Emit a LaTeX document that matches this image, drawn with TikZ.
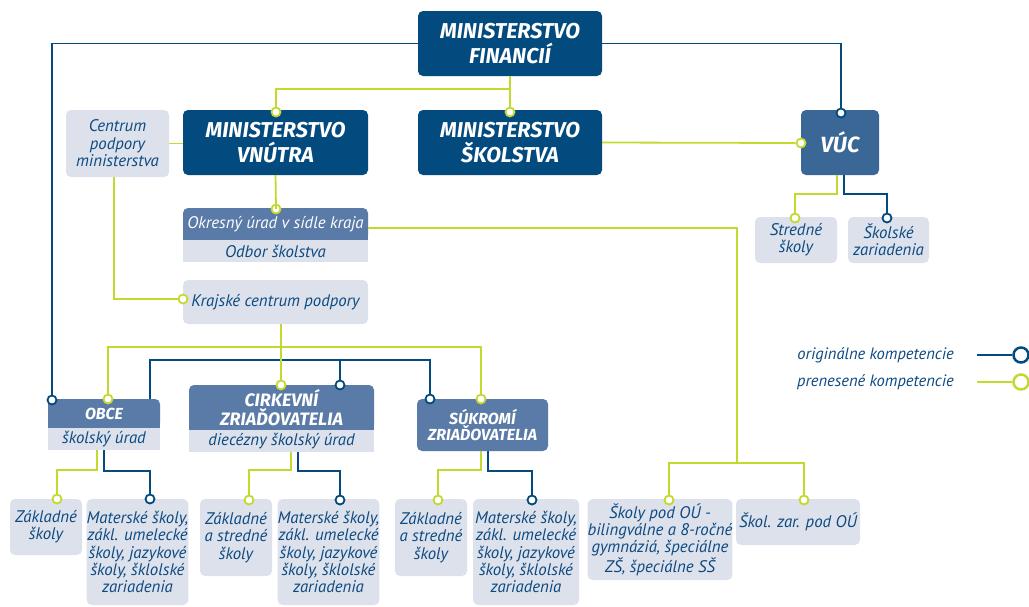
\documentclass[tikz,border=0pt]{standalone}
\usepackage{fontspec}
\setmainfont{PT Sans}
\newfontfamily\headfont{Fira Sans}
\usetikzlibrary{backgrounds}

\definecolor{mfblue}{HTML}{034A7E}
\definecolor{vucblue}{HTML}{3A6795}
\definecolor{hdrblue}{HTML}{5A7BA7}
\definecolor{paleblue}{HTML}{DCE1EC}
\definecolor{lime}{HTML}{C4D92E}
\definecolor{textblue}{HTML}{0D4A80}

\begin{document}
\begin{tikzpicture}[x=1pt, y=-1pt,
  ministry/.style={rectangle, rounded corners=5pt, fill=mfblue, text=white, align=center, inner sep=0pt,
    font=\headfont\fontsize{21.5}{24.5}\selectfont\bfseries\itshape, minimum width=184pt, minimum height=65pt},
  header/.style={rectangle, rounded corners=5pt, fill=hdrblue, text=white, align=center, inner sep=0pt,
    font=\headfont\fontsize{18}{18.5}\selectfont\bfseries\itshape},
  subbox/.style={rectangle, fill=paleblue, text=textblue, align=center, inner sep=0pt, minimum height=22pt,
    font=\fontsize{16.8}{17.5}\selectfont\itshape},
  leaf/.style={rectangle, rounded corners=5pt, fill=paleblue, text=textblue, align=center, inner sep=0pt,
    font=\fontsize{16.8}{17.3}\selectfont\itshape},
  orig/.style={draw=mfblue, line width=1.8pt},
  pren/.style={draw=lime, line width=1.8pt},
  orig_end/.style={circle, draw=mfblue, fill=white, line width=1.8pt, inner sep=0pt, minimum size=9pt},
  pren_end/.style={circle, draw=lime, fill=white, line width=1.8pt, inner sep=0pt, minimum size=9pt},
  legend_text/.style={text=textblue, inner sep=0pt, font=\fontsize{16.5}{17}\selectfont\itshape}
]
  \useasboundingbox (0,0) rectangle (1029,606);

  % Ministries
  \node[ministry] (mf) at (510,43.5) {MINISTERSTVO\\FINANCIÍ};
  \node[ministry, minimum width=185pt] (mv) at (275.5,142.5) {MINISTERSTVO\\VNÚTRA};
  \node[ministry] (ms) at (510,142.5) {MINISTERSTVO\\ŠKOLSTVA};
  \node[ministry, fill=vucblue, minimum width=78pt, font=\headfont\fontsize{22}{24}\selectfont\bfseries\itshape] (vuc) at (840,142.5) {VÚC};
  \node[leaf, minimum width=103pt, minimum height=67pt, font=\fontsize{16.8}{17.5}\selectfont\itshape] (cpm) at (117.5,143.5) {Centrum\\podpory\\ministerstva};

  % Regional office
  \node[header, minimum width=185pt, minimum height=32pt, font=\fontsize{16.8}{17.5}\selectfont\itshape] (ou_h) at (275.5,224) {Okresný úrad v sídle kraja};
  \node[subbox, minimum width=185pt] (ou_s) at (275.5,251) {Odbor školstva};
  \node[leaf, minimum width=185pt, minimum height=44pt] (kcp) at (275.5,302) {Krajské centrum podpory};

  % VUC schools
  \node[leaf, minimum width=82pt, minimum height=46pt] (vuc_ss) at (796,240) {Stredné\\školy};
  \node[leaf, minimum width=81pt, minimum height=46pt] (vuc_sz) at (888.5,240) {Školské\\zariadenia};

  % Founders
  \node[header, minimum width=112pt, minimum height=29pt, font=\headfont\fontsize{16}{18}\selectfont\bfseries\itshape] (obce_h) at (104,413.5) {OBCE};
  \node[subbox, minimum width=112pt] (obce_s) at (104,439) {školský úrad};
  \node[header, minimum width=185pt, minimum height=45pt] (cirk_h) at (281.5,407.5) {CIRKEVNÍ\\ZRIAĎOVATELIA};
  \node[subbox, minimum width=185pt] (cirk_s) at (281.5,441) {diecézny školský úrad};
  \node[header, minimum width=131pt, minimum height=52pt, font=\headfont\fontsize{16}{16}\selectfont\bfseries\itshape] (suk) at (482.5,425) {SÚKROMÍ\\ZRIAĎOVATELIA};

  \begin{scope}[on background layer]
    \fill[hdrblue] (ou_h.west) rectangle (ou_h.south east);
    \fill[hdrblue] (obce_h.west) rectangle (obce_h.south east);
    \fill[hdrblue] (cirk_h.west) rectangle (cirk_h.south east);
  \end{scope}

  % Schools
  \node[leaf, minimum width=72pt, minimum height=56pt] (obce_zs) at (46,527) {Základné\\školy};
  \node[leaf, minimum width=101pt, minimum height=106pt] (obce_ms) at (137.5,552) {Materské školy,\\zákl. umelecké\\školy, jazykové\\školy, šklolské\\zariadenia};
  \node[leaf, minimum width=72pt, minimum height=77pt] (cirk_zs) at (236,537.5) {Základné\\a stredné\\školy};
  \node[leaf, minimum width=101pt, minimum height=106pt] (cirk_ms) at (328.5,552) {Materské školy,\\zákl. umelecké\\školy, jazykové\\školy, šklolské\\zariadenia};
  \node[leaf, minimum width=72pt, minimum height=77pt] (suk_zs) at (431,537.5) {Základné\\a stredné\\školy};
  \node[leaf, minimum width=106pt, minimum height=106pt] (suk_ms) at (526,552) {Materské školy,\\zákl. umelecké\\školy, jazykové\\školy, šklolské\\zariadenia};
  \node[leaf, minimum width=142pt, minimum height=81pt] (ou_sk) at (660,539.5) {Školy pod OÚ -\\bilingválne a 8-ročné\\gymnáziá, špeciálne\\ZŠ, špeciálne SŠ};
  \node[leaf, minimum width=124pt, minimum height=46pt] (ou_zar) at (798,522) {Škol. zar. pod OÚ};

  % Connector ends
  \node[pren_end] (c_mv) at (276,112) {};
  \node[pren_end] (c_ms) at (510,112) {};
  \node[orig_end] (c_vuc_o) at (841,113) {};
  \node[pren_end] (c_vuc_p) at (801,143) {};
  \node[pren_end] (c_ou) at (276,209) {};
  \node[pren_end] (c_kcp) at (183,299) {};
  \node[pren_end] (c_vuc_ss) at (795,218) {};
  \node[orig_end] (c_vuc_sz) at (887,218) {};
  \node[orig_end] (c_obce_o) at (52,400) {};
  \node[pren_end] (c_obce_p) at (108,399) {};
  \node[pren_end] (c_cirk_p) at (281,385) {};
  \node[orig_end] (c_cirk_o) at (340,385) {};
  \node[orig_end] (c_suk_o) at (430,399) {};
  \node[pren_end] (c_suk_p) at (481,399) {};
  \node[pren_end] (c_obce_zs) at (57,499) {};
  \node[orig_end] (c_obce_ms) at (150,499) {};
  \node[pren_end] (c_cirk_zs) at (249,500) {};
  \node[orig_end] (c_cirk_ms) at (340,500) {};
  \node[pren_end] (c_suk_zs) at (438,500) {};
  \node[orig_end] (c_suk_ms) at (532,500) {};
  \node[pren_end] (c_ou_sk) at (669,500) {};
  \node[pren_end] (c_ou_zar) at (804,500) {};

  % Junctions
  \coordinate (j_mf) at (510,89);
  \coordinate (j_ou) at (737,463);
  \coordinate (j_kcp) at (281,347);
  \coordinate (j_obce) at (340,360);

  % Original competences
  \draw[orig] (mf.west) -| (c_obce_o);
  \draw[orig] (mf.east) -| (c_vuc_o);
  \draw[orig] ([xshift=4pt]vuc.south) -- ++(0,19) -| (c_vuc_sz);
  \draw[orig] ([xshift=-10pt]obce_h.north east) |- (j_obce) -| (c_suk_o);
  \draw[orig] (j_obce) -- (c_cirk_o);
  \draw[orig] (obce_s.south) -- ++(0,21) -| (c_obce_ms);
  \draw[orig] ([xshift=16.5pt]cirk_s.south) -- ++(0,19) -| (c_cirk_ms);
  \draw[orig] ([xshift=5.5pt]suk.south) -- ++(0,20) -| (c_suk_ms);

  % Delegated competences
  \draw[pren] (mf.south) -- (c_ms);
  \draw[pren] (j_mf) -| (c_mv);
  \draw[pren] (cpm.east) -- (cpm.east -| mv.west);
  \draw[pren] (mv.south) -- (c_mv |- c_ou) -- (c_ou);
  \draw[pren] (ms.east) -- (c_vuc_p);
  \draw[pren] ([xshift=-3pt]vuc.south) -- ++(0,19) -| (c_vuc_ss);
  \draw[pren] ([xshift=-3.5pt]cpm.south) |- (c_kcp);
  \draw[pren] ([yshift=-4pt]ou_h.east) -| (j_ou);
  \draw[pren] (c_ou_sk) |- (j_ou) -| (c_ou_zar);
  \draw[pren] (kcp.south -| c_cirk_p) -- (c_cirk_p);
  \draw[pren] (c_obce_p) |- (j_kcp) -| (c_suk_p);
  \draw[pren] ([xshift=-7pt]obce_s.south) -- ++(0,20) -| (c_obce_zs);
  \draw[pren] ([xshift=9.5pt]cirk_s.south) -- ++(0,18) -| (c_cirk_zs);
  \draw[pren] ([xshift=-1.5pt]suk.south) -- ++(0,19) -| (c_suk_zs);

  % Legend
  \node[legend_text, anchor=east] (leg_orig) at (954,355) {originálne kompetencie};
  \node[legend_text, anchor=east] (leg_pren) at (954,382) {prenesené kompetencie};
  \node[orig_end, minimum size=15pt, line width=2.5pt] (leg_orig_c) at (1021,355) {};
  \node[pren_end, minimum size=15pt, line width=2.5pt] (leg_pren_c) at (1021,382) {};
  \coordinate (leg_orig_a) at (977,355);
  \coordinate (leg_pren_a) at (977,382);
  \draw[orig, line width=2.5pt] (leg_orig_a) -- (leg_orig_c);
  \draw[pren, line width=2.5pt] (leg_pren_a) -- (leg_pren_c);

\end{tikzpicture}
\end{document}
